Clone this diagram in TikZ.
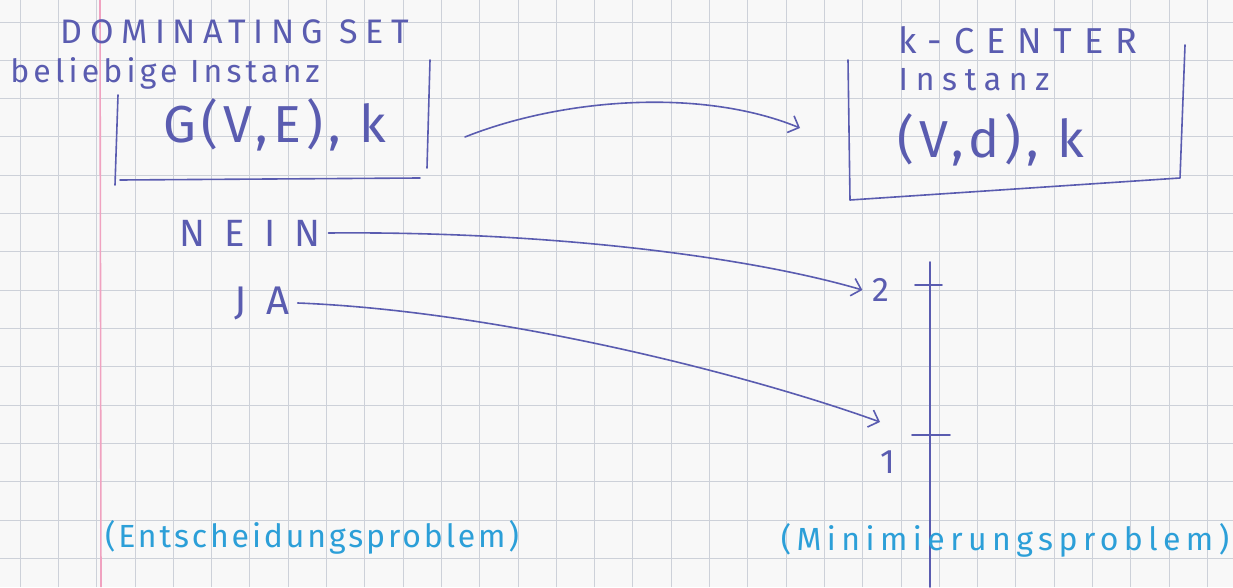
\documentclass[tikz,border=0pt]{standalone}
\usepackage{fontspec}
\setmainfont{Fira Sans}
\usetikzlibrary{arrows.meta}
\definecolor{ink}{HTML}{5A5CB0}
\definecolor{skyA}{HTML}{2C9FD8}
\definecolor{paper}{HTML}{F8F8F8}
\definecolor{gridA}{HTML}{CDD1D9}
\definecolor{margin}{HTML}{F0A2C0}
\tikzset{
  pen/.style={draw=ink, line width=1.6pt, line cap=round, line join=round},
  penarrow/.style={pen, -{Straight Barb[length=9pt,width=18pt,line width=1.6pt]}},
  hand/.style={text=ink, inner sep=0pt},
  bigtext/.style={hand, font=\fontsize{52}{56}\selectfont\addfontfeature{LetterSpace=10}},
  captext/.style={hand, font=\fontsize{34}{38}\selectfont\addfontfeature{LetterSpace=22}},
  smalltext/.style={hand, font=\fontsize{32}{36}\selectfont\addfontfeature{LetterSpace=13}},
  digit/.style={hand, font=\fontsize{34}{36}\selectfont},
  bluetext/.style={inner sep=0pt, text=skyA, font=\fontsize{32}{36}\selectfont}
}
\begin{document}
\begin{tikzpicture}[x=1pt,y=1pt]
\useasboundingbox (0,0) rectangle (1233,587);

% paper
\fill[paper] (0,0) rectangle (1233,587);
\begin{scope}[shift={(20,28.8)}]
\draw[gridA, line width=0.8pt, step=38.3] (-20,-28.8) grid (1213,558.2);
\end{scope}
\draw[margin, line width=1.6pt] (101,0) -- (100,587);

% DOMINATING SET instance
\node[captext] (dsname) at (235,555) {DOMINATING SET};
\node[smalltext] (dsany) at (165,514) {beliebige Instanz};
\node[bigtext] (dsinst) at (275,462) {G(V,E), k};
\coordinate (dsL) at (118,492);
\coordinate (dsR) at (430,527);
\draw[pen] (dsL) -- (115,402);
\draw[pen] (120,407) -- (420,409);
\draw[pen] (dsR) -- (427,419);

% k-CENTER instance
\node[hand, font=\fontsize{36}{40}\selectfont\addfontfeature{LetterSpace=33}] (kcname) at (1018,547) {k-CENTER};
\node[hand, font=\fontsize{32}{36}\selectfont\addfontfeature{LetterSpace=24}] (kcany) at (974,507) {Instanz};
\node[bigtext] (kcinst) at (991,447) {(V,d), k};
\coordinate (kcL) at (848,527);
\coordinate (kcR) at (1185,542);
\draw[pen] (kcL) -- (850,387) -- (1180,409) -- (kcR);

% reduction
\coordinate (dsout) at (465,450);
\coordinate (kcin) at (800,459);
\draw[penarrow] (dsout) .. controls (560,488) and (700,500) .. (kcin);

% answers
\node[hand, font=\fontsize{38}{40}\selectfont\addfontfeature{LetterSpace=50}] (nein) at (250,354) {NEIN};
\node[hand, font=\fontsize{40}{42}\selectfont\addfontfeature{LetterSpace=50}] (ja) at (262,284) {JA};

% value axis
\coordinate (axtop) at (930,325);
\coordinate (axbot) at (930,0);
\draw[pen] (axtop) -- (axbot);
\coordinate (t2) at (930,302);
\coordinate (t1) at (930,152);
\draw[pen] ([xshift=-15pt]t2) -- ([xshift=12pt]t2);
\draw[pen] ([xshift=-18pt]t1) -- ([xshift=20pt]t1);
\node[digit] (two) at (881,297) {2};
\node[digit] (one) at (888,125) {1};
\coordinate (jaend) at (880,165);

\draw[penarrow] (nein.east) ++(8pt,0) .. controls (550,356) and (750,330) .. ([xshift=-10pt]two.west);
\draw[penarrow] (ja.east) ++(8pt,0) .. controls (500,276) and (750,212) .. (jaend);

% problem kinds
\node[bluetext, font=\fontsize{32}{36}\selectfont\addfontfeature{LetterSpace=9}] (decide) at (312,50) {(Entscheidungsproblem)};
\node[bluetext, font=\fontsize{32}{36}\selectfont\addfontfeature{LetterSpace=17}] (minimize) at (1005,47) {(Minimierungsproblem)};

\end{tikzpicture}
\end{document}
